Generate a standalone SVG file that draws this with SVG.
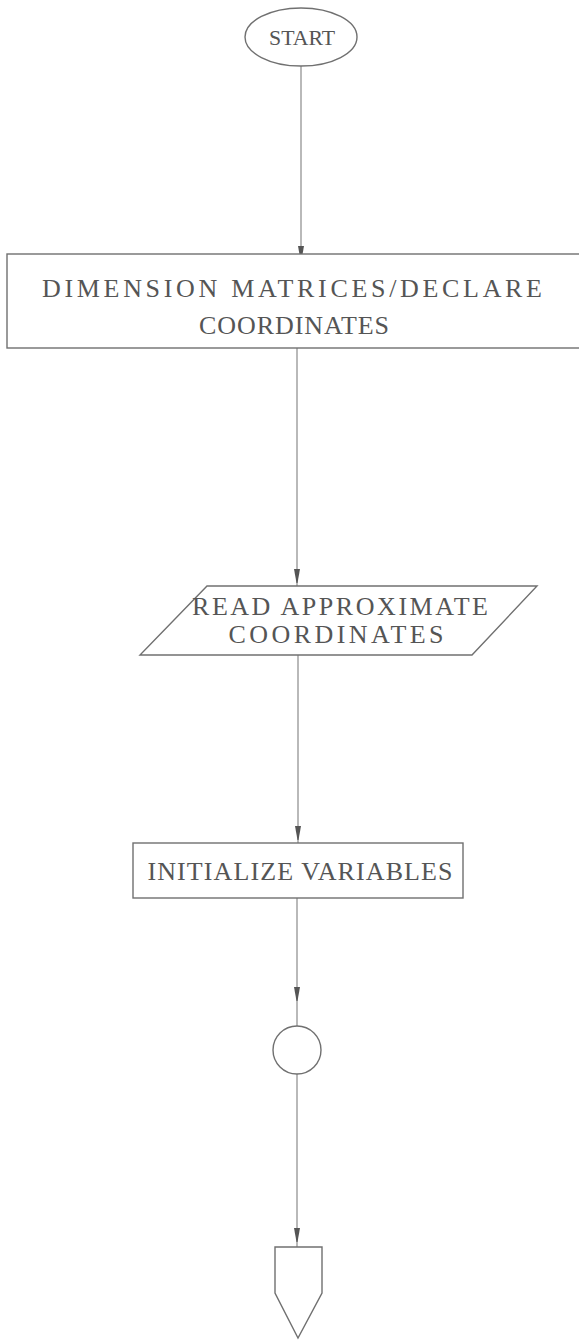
<svg xmlns="http://www.w3.org/2000/svg" width="579" height="1342" viewBox="0 0 579 1342">
<defs>
<style>
.shape{fill:#fff;stroke:#707070;stroke-width:1.4}
.conn{stroke:#8a8a8a;stroke-width:1.2;fill:none}
.lbl{font-family:"Liberation Serif","Times New Roman",serif;fill:#555;text-anchor:middle;font-size:26px}
.arr{fill:#555}
</style>
</defs>
<rect width="579" height="1342" fill="#fff"/>
<g id="connectors">
<line class="conn" x1="301" y1="66" x2="301" y2="254"/>
<path class="arr" d="M298,246 L304,246 L301.5,260 L300.5,260 Z"/>
<line class="conn" x1="297" y1="348" x2="297" y2="586"/>
<path class="arr" d="M294,569 L300,569 L297.5,583 L296.5,583 Z"/>
<line class="conn" x1="298" y1="655" x2="298" y2="843"/>
<path class="arr" d="M295,826 L301,826 L298.5,840 L297.5,840 Z"/>
<line class="conn" x1="297" y1="898" x2="297" y2="1026"/>
<path class="arr" d="M294,987 L300,987 L297.5,1001 L296.5,1001 Z"/>
<line class="conn" x1="297" y1="1074" x2="297" y2="1247"/>
<path class="arr" d="M294,1228 L300,1228 L297.5,1242 L296.5,1242 Z"/>
</g>
<g id="start">
<ellipse class="shape" cx="301" cy="37" rx="56" ry="29"/>
<text class="lbl" x="302" y="45" style="font-size:22px" textLength="66" lengthAdjust="spacingAndGlyphs">START</text>
</g>
<g id="dimension">
<rect class="shape" x="7" y="254" width="580" height="94"/>
<text class="lbl" x="292" y="297" textLength="500" lengthAdjust="spacing">DIMENSION MATRICES/DECLARE</text>
<text class="lbl" x="294" y="334" textLength="190" lengthAdjust="spacing">COORDINATES</text>
</g>
<g id="read">
<polygon class="shape" points="207,586 537,586 472,655 140,655"/>
<text class="lbl" x="340" y="615" textLength="296" lengthAdjust="spacing">READ APPROXIMATE</text>
<text class="lbl" x="336" y="643" textLength="215" lengthAdjust="spacing">COORDINATES</text>
</g>
<g id="init">
<rect class="shape" x="133" y="843" width="330" height="55"/>
<text class="lbl" x="300" y="880" textLength="305" lengthAdjust="spacing">INITIALIZE VARIABLES</text>
</g>
<g id="connector-circle">
<circle class="shape" cx="297" cy="1050" r="24"/>
</g>
<g id="offpage">
<polygon class="shape" points="275,1247 322,1247 322,1293 298,1338 275,1293"/>
</g>
</svg>
